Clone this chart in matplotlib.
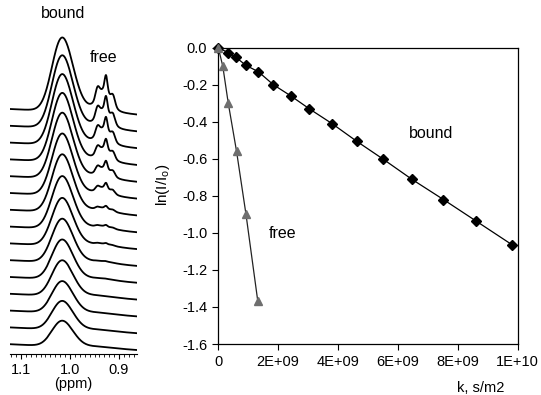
import numpy as np
import matplotlib
matplotlib.use("Agg")
import matplotlib.pyplot as plt

plt.rcParams['font.family'] = ['Liberation Sans', 'DejaVu Sans']

# ---------------- data ----------------
# right panel: ln(I/Io) vs k
k_bound = np.array([0.0, 0.33, 0.59, 0.92, 1.34, 1.84, 2.42, 3.04, 3.80, 4.62,
                    5.49, 6.46, 7.52, 8.60, 9.82]) * 1e9
ln_bound = np.array([0.0, -0.027, -0.052, -0.095, -0.13, -0.20, -0.26, -0.33,
                     -0.41, -0.505, -0.60, -0.71, -0.82, -0.935, -1.065])
k_free = np.array([0.0, 0.15, 0.33, 0.61, 0.925, 1.32]) * 1e9
ln_free = np.array([0.0, -0.10, -0.297, -0.56, -0.90, -1.37])

# left panel: peak heights (pixels) of the stacked spectra, top to bottom
bound_height = [74, 73, 71, 69, 66, 62, 58, 53, 48, 44, 40, 36, 32, 29, 26]
free_height = [34, 30, 26, 21, 16, 11, 5, 3, 2, 1, 0.5, 0, 0, 0, 0]
ppm_ticks = [1.1, 1.0, 0.9]
ppm_tick_labels = ['1.1', '1.0', '0.9']
xr_ticks = [0, 2e9, 4e9, 6e9, 8e9, 1e10]
xr_tick_labels = ['0', '2E+09', '4E+09', '6E+09', '8E+09', '1E+10']
yr_ticks = [0.0, -0.2, -0.4, -0.6, -0.8, -1.0, -1.2, -1.4, -1.6]

W, H = 541, 395
fig = plt.figure(figsize=(W / 100, H / 100), dpi=100)

# ---------------- left panel ----------------
x_lo, x_hi = 0.8633, 1.1224
axL = fig.add_axes([10 / W, (H - 354) / H, 127 / W, (354 - 5) / H])
ppm = np.linspace(x_lo, x_hi, 700)


def g(c, s):
    return np.exp(-0.5 * ((ppm - c) / s) ** 2)


bshape = 1.0 * g(1.022, 0.0185) + 0.55 * g(1.002, 0.0185) + 0.10 * g(0.95, 0.04)
bshape /= bshape.max()
fshape = (0.60 * g(0.930, 0.013) + 0.45 * g(0.9265, 0.0028)
          + 0.30 * g(0.944, 0.004) + 0.25 * g(0.912, 0.004))
fshape /= fshape.max()
tilt = 6.0 * (x_hi - ppm) / (x_hi - x_lo)
spacing = 16.8
for i, (hb, hf) in enumerate(zip(bound_height, free_height)):
    base = (354 - 109) - spacing * i
    y = base - tilt + hb * bshape + hf * fshape
    axL.plot(ppm, y, color='black', lw=1.3)

axL.set_xlim(x_hi, x_lo)
axL.set_ylim(0, 349)
for s in ['left', 'right', 'top']:
    axL.spines[s].set_visible(False)
axL.spines['bottom'].set_linewidth(0.8)
axL.set_yticks([])
axL.set_xticks(ppm_ticks)
axL.set_xticklabels(ppm_tick_labels, fontsize=10.5)
axL.set_xticks(np.arange(0.87, 1.125, 0.01), minor=True)
axL.tick_params(axis='x', which='major', length=3.5, width=0.8, pad=3)
axL.tick_params(axis='x', which='minor', length=2, width=0.6)
axL.set_xlabel('(ppm)', fontsize=10.5, labelpad=0)
axL.text(1.0 - (63 - 70) / 490, 354 - 14, 'bound', ha='center', va='center', fontsize=11.5)
axL.text(1.0 - (104 - 70) / 490, 354 - 58, 'free', ha='center', va='center', fontsize=11.5)

# ---------------- right panel ----------------
axR = fig.add_axes([218.3 / W, (H - 344) / H, 299.4 / W, 296.3 / H])
axR.plot(k_bound, ln_bound, '-', color='black', lw=0.9, zorder=2)
axR.plot(k_bound, ln_bound, 'D', color='black', ms=5.5, zorder=3, clip_on=False)
axR.plot(k_free, ln_free, '-', color='#222222', lw=0.9, zorder=2)
axR.plot(k_free, ln_free, '^', color='#6e6e6e', ms=6, zorder=4, clip_on=False)
axR.set_xlim(0, 1e10)
axR.set_ylim(-1.6, 0.0)
axR.set_xticks(xr_ticks)
axR.set_xticklabels(xr_tick_labels, fontsize=10.5)
axR.set_yticks(yr_ticks)
axR.set_yticklabels([f'{v:.1f}' for v in yr_ticks], fontsize=10.5)
axR.tick_params(axis='both', direction='out', length=4, width=0.8, pad=4)
for s in axR.spines.values():
    s.set_linewidth(0.9)
axR.text(7.1e9, -0.466, 'bound', ha='center', va='center', fontsize=11.5)
axR.text(2.15e9, -1.006, 'free', ha='center', va='center', fontsize=11.5)
fig.text(163 / W, 1 - 185 / H, r'ln(I/I$_\mathregular{o}$)', rotation=90,
         ha='center', va='center', fontsize=11)
fig.text(481 / W, 1 - 388 / H, 'k, s/m2', ha='center', va='center', fontsize=10.5)

fig.savefig('out.png', dpi=100)
